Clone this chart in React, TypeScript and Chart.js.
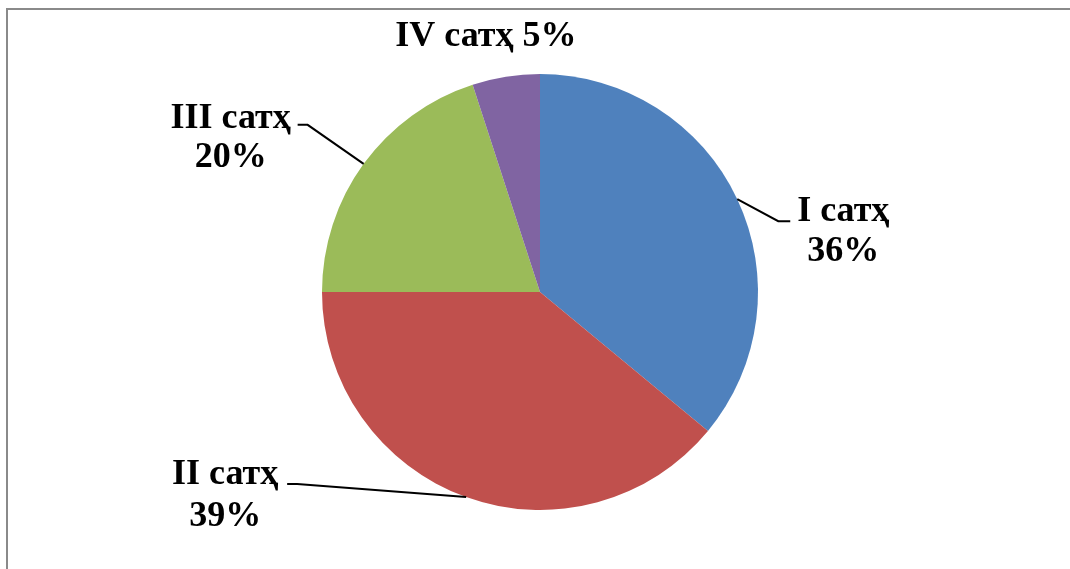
import React, { useEffect, useRef } from "react";
import { Chart, registerables } from "chart.js";

Chart.register(...registerables);

const categories = ["I сатҳ", "II сатҳ", "III сатҳ", "IV сатҳ"];
const values = [36, 39, 20, 5];
const colors = ["#4F81BD", "#C0504D", "#9BBB59", "#8064A2"];

// label layout relative to the slice's outer mid-point
type LabelLayout = {
  dx: number;
  dy1: number;
  dy2: number | null;
  leader: [number, number][];
  oneLine?: boolean;
};
const labelLayouts: LabelLayout[] = [
  { dx: 106, dy1: 22, dy2: 62, leader: [[41, 22], [53, 22]] },
  { dx: -241, dy1: -13, dy2: 29, leader: [[-169, -13], [-179, -13]] },
  { dx: -133, dy1: -36, dy2: 3, leader: [[-56, -39], [-66, -39]] },
  { dx: -20, dy1: -31, dy2: null, leader: [], oneLine: true },
];

const labelPlugin = {
  id: "pieLabels",
  afterDatasetsDraw(chart: any) {
    const ctx = chart.ctx;
    const meta = chart.getDatasetMeta(0);
    ctx.save();
    ctx.font = "bold 36px 'Liberation Serif', 'Times New Roman', serif";
    ctx.fillStyle = "#000";
    ctx.strokeStyle = "#000";
    ctx.lineWidth = 2;
    ctx.textAlign = "center";
    ctx.textBaseline = "alphabetic";
    meta.data.forEach((arc: any, i: number) => {
      const { x, y, startAngle, endAngle, outerRadius } = arc.getProps(
        ["x", "y", "startAngle", "endAngle", "outerRadius"],
        true
      );
      const mid = (startAngle + endAngle) / 2;
      const ax = x + Math.cos(mid) * outerRadius;
      const ay = y + Math.sin(mid) * outerRadius;
      const lay = labelLayouts[i];
      if (lay.leader.length) {
        ctx.beginPath();
        ctx.moveTo(ax, ay);
        lay.leader.forEach(([lx, ly]) => ctx.lineTo(ax + lx, ay + ly));
        ctx.stroke();
      }
      const pct = values[i] + "%";
      if (lay.oneLine) {
        ctx.fillText(categories[i] + " " + pct, ax + lay.dx, ay + lay.dy1);
      } else {
        ctx.fillText(categories[i], ax + lay.dx, ay + lay.dy1);
        ctx.fillText(pct, ax + lay.dx, ay + (lay.dy2 as number));
      }
    });
    ctx.restore();
  },
};

export default function App() {
  const ref = useRef<HTMLCanvasElement | null>(null);
  useEffect(() => {
    if (!ref.current) return;
    const chart = new Chart(ref.current, {
      type: "pie",
      data: {
        labels: categories,
        datasets: [
          {
            data: values,
            backgroundColor: colors,
            borderWidth: 0,
          },
        ],
      },
      options: {
        responsive: false,
        animation: false,
        layout: { padding: { top: 74, bottom: 59, left: 100, right: 90 } },
        plugins: {
          legend: { display: false },
          tooltip: { enabled: false },
        },
      },
      plugins: [labelPlugin],
    });
    return () => chart.destroy();
  }, []);
  return (
    <div
      style={{
        position: "fixed",
        left: 0,
        top: 0,
        width: 1070,
        height: 569,
        overflow: "hidden",
        background: "#fff",
      }}
    >
      <div
        style={{
          position: "absolute",
          left: 6,
          top: 8,
          width: 1200,
          height: 700,
          borderLeft: "2px solid #8a8a8a",
          borderTop: "2px solid #8a8a8a",
        }}
      />
      <canvas
        ref={ref}
        width={1070}
        height={569}
        style={{ position: "absolute", left: 0, top: 0, width: 1070, height: 569 }}
      />
    </div>
  );
}
